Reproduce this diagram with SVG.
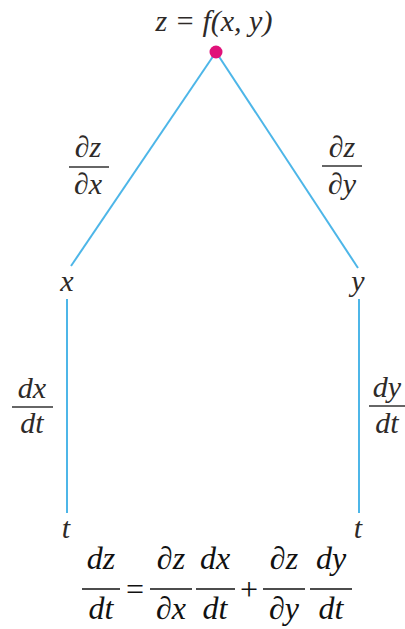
<svg xmlns="http://www.w3.org/2000/svg" width="405" height="629" viewBox="0 0 405 629">
<style>
text{font-family:"Liberation Serif","Times New Roman","DejaVu Serif",serif;fill:#2e2a28;}
.i{font-style:italic;}
.lab{font-size:30px;text-anchor:middle;}
.eq{font-size:32px;text-anchor:middle;fill:#111;}
.edge{stroke:#4db6e8;stroke-width:2;fill:none;}
.bar{stroke:#333;stroke-width:1.5;}
.bar2{stroke:#111;stroke-width:1.3;}
</style>
<g id="connectors">
<line class="edge" x1="216" y1="52" x2="71" y2="266"/>
<line class="edge" x1="216" y1="52" x2="358" y2="268"/>
<line class="edge" x1="67" y1="299" x2="67" y2="513"/>
<line class="edge" x1="359" y1="299" x2="359" y2="513"/>
</g>
<g id="root">
<text class="i" x="214" y="31" font-size="30" text-anchor="middle">z = f(x, y)</text>
<circle cx="216" cy="52" r="6.5" fill="#e0127a"/>
</g>
<g id="label-dzdx">
<text class="lab" x="88" y="157"><tspan>∂</tspan><tspan class="i">z</tspan></text>
<line class="bar" x1="69" y1="167" x2="109" y2="167"/>
<text class="lab" x="88" y="194"><tspan>∂</tspan><tspan class="i">x</tspan></text>
</g>
<g id="label-dzdy">
<text class="lab" x="342" y="157"><tspan>∂</tspan><tspan class="i">z</tspan></text>
<line class="bar" x1="322" y1="166" x2="362" y2="166"/>
<text class="lab" x="342" y="194"><tspan>∂</tspan><tspan class="i">y</tspan></text>
</g>
<g id="node-x"><text class="i lab" x="67" y="291">x</text></g>
<g id="node-y"><text class="i lab" x="358" y="291">y</text></g>
<g id="label-dxdt">
<text class="i lab" x="32" y="398">dx</text>
<line class="bar" x1="12" y1="407" x2="53" y2="407"/>
<text class="i lab" x="32" y="433">dt</text>
</g>
<g id="label-dydt">
<text class="i lab" x="387" y="397">dy</text>
<line class="bar" x1="369" y1="406" x2="405" y2="406"/>
<text class="i lab" x="387" y="433">dt</text>
</g>
<g id="node-t1"><text class="i lab" x="66" y="538">t</text></g>
<g id="node-t2"><text class="i lab" x="358" y="538">t</text></g>
<g id="formula">
<text class="i eq" x="101" y="569">dz</text>
<line class="bar2" x1="82" y1="589" x2="120" y2="589"/>
<text class="i eq" x="101" y="619">dt</text>
<text class="eq" x="135" y="600">=</text>
<text class="eq" x="171" y="569"><tspan>∂</tspan><tspan class="i">z</tspan></text>
<line class="bar2" x1="150" y1="589" x2="192" y2="589"/>
<text class="eq" x="171" y="619"><tspan>∂</tspan><tspan class="i">x</tspan></text>
<text class="i eq" x="215" y="569">dx</text>
<line class="bar2" x1="196" y1="589" x2="235" y2="589"/>
<text class="i eq" x="215" y="619">dt</text>
<text class="eq" x="249" y="600">+</text>
<text class="eq" x="284" y="569"><tspan>∂</tspan><tspan class="i">z</tspan></text>
<line class="bar2" x1="263" y1="589" x2="305" y2="589"/>
<text class="eq" x="284" y="619"><tspan>∂</tspan><tspan class="i">y</tspan></text>
<text class="i eq" x="331" y="569">dy</text>
<line class="bar2" x1="310" y1="589" x2="352" y2="589"/>
<text class="i eq" x="331" y="619">dt</text>
</g>
</svg>
